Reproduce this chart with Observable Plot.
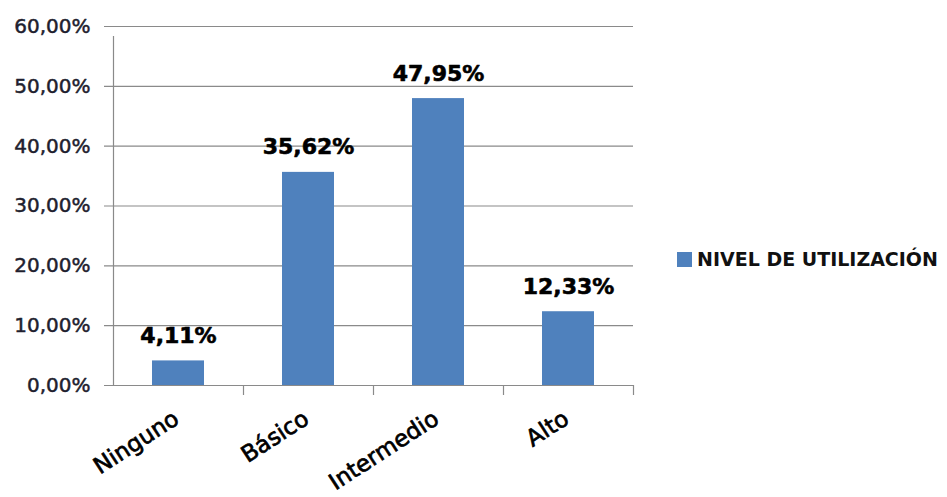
<!DOCTYPE html>
<html>
<head>
<meta charset="utf-8">
<script src="https://cdn.jsdelivr.net/npm/d3@7"></script>
<script src="https://cdn.jsdelivr.net/npm/@observablehq/plot@0.6"></script>
<style>
  html, body { margin: 0; padding: 0; background: #fff; }
  #wrap { position: relative; width: 947px; height: 497px; }
  #legend { position: absolute; left: 677px; top: 248px; display: flex; align-items: center;
            font-family: "DejaVu Sans", sans-serif; font-weight: bold; font-size: 19px; color: #111; white-space: nowrap; }
  #legend .sw { width: 15px; height: 15px; background: #4F81BD; margin-right: 5px; }
</style>
</head>
<body>
<div id="wrap"></div>
<script>
const categories = ["Ninguno", "Básico", "Intermedio", "Alto"];
const values = [0.0411, 0.3562, 0.4795, 0.1233];
const yTicks = [0, 0.1, 0.2, 0.3, 0.4, 0.5, 0.6];
const seriesName = "NIVEL DE UTILIZACIÓN";

const data = categories.map((c, i) => ({c, v: values[i]}));
const fmt = d => (d * 100).toFixed(2).replace(".", ",") + "%";
const gridColor = "#8a8a8a";

const chart = Plot.plot({
  width: 947,
  height: 497,
  marginLeft: 113,
  marginRight: 314,
  marginTop: 26,
  marginBottom: 112,
  x: {domain: categories, padding: 0, axis: null},
  y: {domain: [0, 0.6], axis: null},
  style: {fontFamily: "DejaVu Sans, sans-serif", background: "#fff", overflow: "visible"},
  marks: [
    Plot.ruleY(yTicks, {y: d => d, stroke: gridColor, strokeWidth: 1.2, insetLeft: -9}),
    Plot.ruleX([categories[0]], {x: d => d, y1: 0, y2: 0.6, dx: -65, insetBottom: -10, stroke: gridColor, strokeWidth: 1.2}),
    Plot.ruleX(categories.slice(1), {x: d => d, y1: 0, y2: 0, dx: -65, insetBottom: -10, stroke: gridColor, strokeWidth: 1.2}),
    Plot.ruleX([categories[categories.length - 1]], {x: d => d, y1: 0, y2: 0, dx: 65, insetBottom: -10, stroke: gridColor, strokeWidth: 1.2}),
    Plot.barY(data, {x: "c", y: "v", fill: "#4F81BD", insetLeft: 39, insetRight: 39}),
    Plot.text(data, {x: "c", y: "v", text: d => fmt(d.v), dy: -18, lineAnchor: "bottom", fontWeight: "bold", fontSize: 22, fill: "#000", stroke: "#000", strokeWidth: 0.6}),
    Plot.text(yTicks, {y: d => d, text: d => fmt(d), frameAnchor: "left", dx: -23, textAnchor: "end", fontSize: 20, fill: "#1f1f2f", stroke: "#1f1f2f", strokeWidth: 0.5}),
    Plot.text(categories, {x: d => d, frameAnchor: "bottom", dy: 37, dx: 2, rotate: -33, textAnchor: "end", fontSize: 23, fill: "#000", stroke: "#000", strokeWidth: 0.7})
  ]
});

const wrap = document.getElementById("wrap");
wrap.appendChild(chart);
const legend = document.createElement("div");
legend.id = "legend";
legend.innerHTML = '<div class="sw"></div><span></span>';
legend.querySelector("span").textContent = seriesName;
wrap.appendChild(legend);
</script>
</body>
</html>
